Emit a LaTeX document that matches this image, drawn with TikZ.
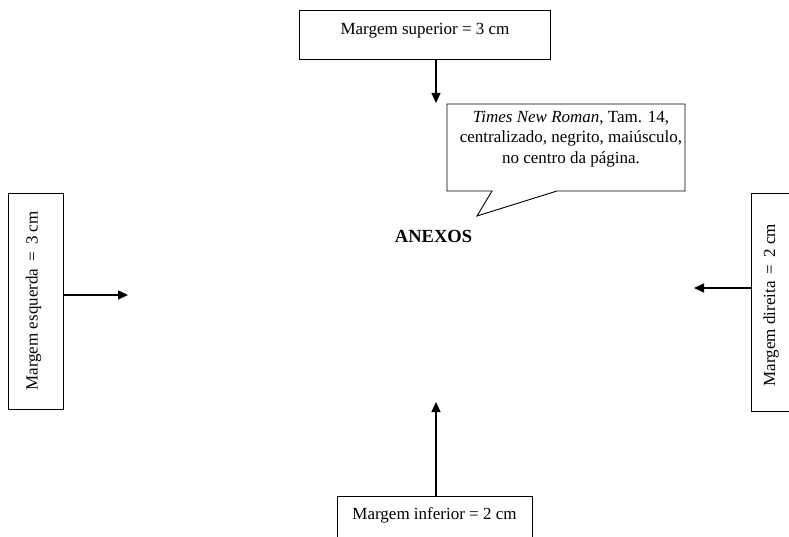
\documentclass[tikz,border=0pt]{standalone}
\usepackage{fontspec}
\setmainfont{Liberation Serif}
\usetikzlibrary{arrows.meta}
\begin{document}
\begin{tikzpicture}[x=1pt,y=-1pt,
  boxshape/.style={draw,line width=0.9pt,inner sep=0pt},
  lbl/.style={inner sep=0pt,font=\fontsize{17}{20.5}\selectfont},
  arr/.style={line width=1.3pt,-{Triangle[length=10pt,width=9pt]}}]
\useasboundingbox (0,0) rectangle (789,537);
\clip (0,0) rectangle (789,537);
% boxes
\node[boxshape,minimum width=251pt,minimum height=49.5pt] (top) at (425,34.75) {};
\node[lbl,anchor=base] (toptxt) at (425,34.5) {Margem superior = 3 cm};
\node[boxshape,minimum width=55pt,minimum height=216pt] (left) at (35.5,301) {};
\node[lbl,anchor=base,rotate=90] (lefttxt) at (37.5,301) {Margem esquerda \,=\, 3 cm};
\node[boxshape,minimum width=50pt,minimum height=218pt] (right) at (776,302) {};
\node[lbl,anchor=base,rotate=90] (righttxt) at (775,305) {Margem direita \,=\, 2 cm};
\node[boxshape,minimum width=195pt,minimum height=60pt,anchor=north] (bottom) at (434.5,496) {};
\node[lbl,anchor=base] (bottxt) at (434.5,519.5) {Margem inferior = 2 cm};
% callout
\coordinate (c1) at (447,104);
\coordinate (c2) at (685,104);
\coordinate (c3) at (685,191);
\coordinate (c4) at (557,191);
\coordinate (tip) at (477,216);
\coordinate (c5) at (492,191);
\coordinate (c6) at (447,191);
\draw[line width=0.9pt,fill=white] (c1) -- (c2) -- (c3) -- (c4) -- (tip) -- (c5) -- (c6) -- cycle;
\node[lbl,align=center] (note) at (571,139) {\textit{Times New Roman}, Tam. 14,\\centralizado, negrito, maiúsculo,\\no centro da página.};
% title
\node[inner sep=0pt,anchor=base,font=\fontsize{18.5}{22}\selectfont\bfseries] (anexos) at (433.5,243) {ANEXOS};
% arrows
\coordinate (ta) at (436,103);
\coordinate (ba) at (436,402);
\coordinate (la) at (128,295);
\coordinate (ra) at (694,288);
\draw[arr] (top.south -| ta) -- (ta);
\draw[arr] (bottom.north -| ba) -- (ba);
\draw[arr] (left.east |- la) -- (la);
\draw[arr] (right.west |- ra) -- (ra);
\end{tikzpicture}
\end{document}
